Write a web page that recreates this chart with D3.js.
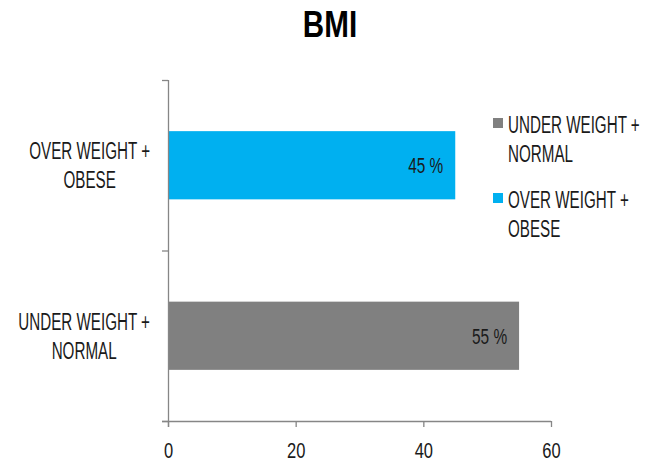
<!DOCTYPE html>
<html>
<head>
<meta charset="utf-8">
<script src="https://cdn.jsdelivr.net/npm/d3@7"></script>
<style>
	body { margin: 0; background: #fff; }
	svg text { font-family: "Liberation Sans", Arial, sans-serif; }
</style>
</head>
<body>
<div id="graph"></div>
<script>
let width = 655;
let height = 465;

// Chart data, bottom to top:
let categories = ["UNDER WEIGHT + NORMAL", "OVER WEIGHT + OBESE"];
let values = [55, 45];
let colours = ["#808080", "#00B0F0"];
let xTicks = [0, 20, 40, 60];
let title = "BMI";

let plot = {
	top: 80,
	right: 551,
	bottom: 421,
	left: 168
	};

let fontSize = 23;
let lineGap = 29;
// The original font is very condensed: squeeze glyphs horizontally
let squeeze = 0.66;

// Split a label after the "+" so it wraps like the original:
function labelLines(label) {
	return label.replace("+ ", "+|").split("|");
	}

// Compress text horizontally by a factor:
function condense(sel, factor) {
	sel.each(function() {
		let w = this.getComputedTextLength();
		d3.select(this)
			.attr("textLength", w * factor)
			.attr("lengthAdjust", "spacingAndGlyphs")
			;
		});
	}

let svg = d3.select("#graph")
	.append("svg")
		.attr("width", width)
		.attr("height", height)
	;

// Title:
svg
	.append("text")
		.attr("x", 330)
		.attr("y", 37)
		.attr("text-anchor", "middle")
		.style("font-size", "37px")
		.style("font-weight", "bold")
		.attr("fill", "#000")
		.text(title)
		.call(condense, 0.8)
	;

let xScale = d3.scaleLinear()
	.domain([0, 60])
	.range([plot.left, plot.right])
	;

let yScale = d3.scaleBand()
	.domain(categories)
	.range([plot.bottom, plot.top])
	.paddingInner(0.6)
	.paddingOuter(0.3)
	;

// Scale for the category boundary ticks:
let yEdges = d3.scaleLinear()
	.domain([0, categories.length])
	.range([plot.bottom, plot.top])
	;

// Bars
svg
	.selectAll("rect.bar")
	.data(categories)
	.enter()
		.append("rect")
			.attr("class", "bar")
			.attr("x", xScale(0))
			.attr("y", d => yScale(d))
			.attr("width", (d, i) => xScale(values[i]) - xScale(0))
			.attr("height", yScale.bandwidth())
			.attr("fill", (d, i) => colours[i])
	;

// Value labels, inside end of the bars:
svg
	.selectAll("text.value")
	.data(categories)
	.enter()
		.append("text")
			.attr("class", "value")
			.attr("x", (d, i) => xScale(values[i]) - 12)
			.attr("y", d => yScale(d) + yScale.bandwidth() / 2)
			.attr("dy", "0.36em")
			.attr("text-anchor", "end")
			.style("font-size", "22px")
			.attr("fill", "#1a1a1a")
			.text((d, i) => values[i] + " %")
			.call(condense, 0.7)
	;

// x axis
let xAxis = d3.axisBottom(xScale)
	.tickValues(xTicks)
	.tickSize(6)
	.tickSizeOuter(0)
	.tickPadding(15)
	;
let gx = svg
	.append("g")
		.attr("transform", `translate(0, ${plot.bottom})`)
		.call(xAxis)
	;
gx.select(".domain")
	.attr("d", `M${plot.left - 6},0.5H${plot.right}`)
	;

// y axis: just the line and boundary ticks
let yAxis = d3.axisLeft(yEdges)
	.ticks(categories.length)
	.tickSize(6)
	.tickSizeOuter(0)
	.tickFormat("")
	;
let gy = svg
	.append("g")
		.attr("transform", `translate(${plot.left}, 0)`)
		.call(yAxis)
	;
gy.select(".domain")
	.attr("d", `M0.5,${plot.top}V${plot.bottom + 6}`)
	;

svg.selectAll(".domain, .tick line")
	.attr("stroke", "#868686")
	.attr("stroke-width", 1.3)
	;
gx.attr("font-family", null);
gy.attr("font-family", null);
gx.selectAll(".tick text")
	.style("font-size", "22px")
	.attr("fill", "#1a1a1a")
	.call(condense, 0.75)
	;

// Category labels, wrapped and centred on their longest line
categories.forEach(function(cat) {
	let lines = labelLines(cat);
	let g = svg.append("g");
	let cy = yScale(cat) + yScale.bandwidth() / 2;
	let texts = g
		.selectAll("text")
		.data(lines)
		.enter()
			.append("text")
				.attr("y", (d, i) => cy + (i - (lines.length - 1) / 2) * lineGap)
				.attr("dy", "0.36em")
				.attr("text-anchor", "middle")
				.style("font-size", fontSize + "px")
				.attr("fill", "#1a1a1a")
				.text(d => d)
		;
	let maxW = d3.max(texts.nodes(), n => n.getComputedTextLength()) * squeeze;
	texts
		.call(condense, squeeze)
		.attr("x", plot.left - 18 - maxW / 2)
		;
	});

// Legend, top to bottom follows category order
let legend = svg
	.append("g")
		.attr("transform", "translate(493, 123)")
	;
categories.forEach(function(cat, i) {
	let item = legend
		.append("g")
			.attr("transform", `translate(0, ${i * 75})`)
		;
	item
		.append("rect")
			.attr("x", 0)
			.attr("y", -5)
			.attr("width", 10)
			.attr("height", 10)
			.attr("fill", colours[i])
		;
	item
		.selectAll("text")
		.data(labelLines(cat))
		.enter()
			.append("text")
				.attr("x", 15)
				.attr("y", (d, j) => 2 + j * lineGap)
				.attr("dy", "0.36em")
				.style("font-size", fontSize + "px")
				.attr("fill", "#1a1a1a")
				.text(d => d)
				.call(condense, squeeze)
		;
	});
</script>
</body>
</html>
